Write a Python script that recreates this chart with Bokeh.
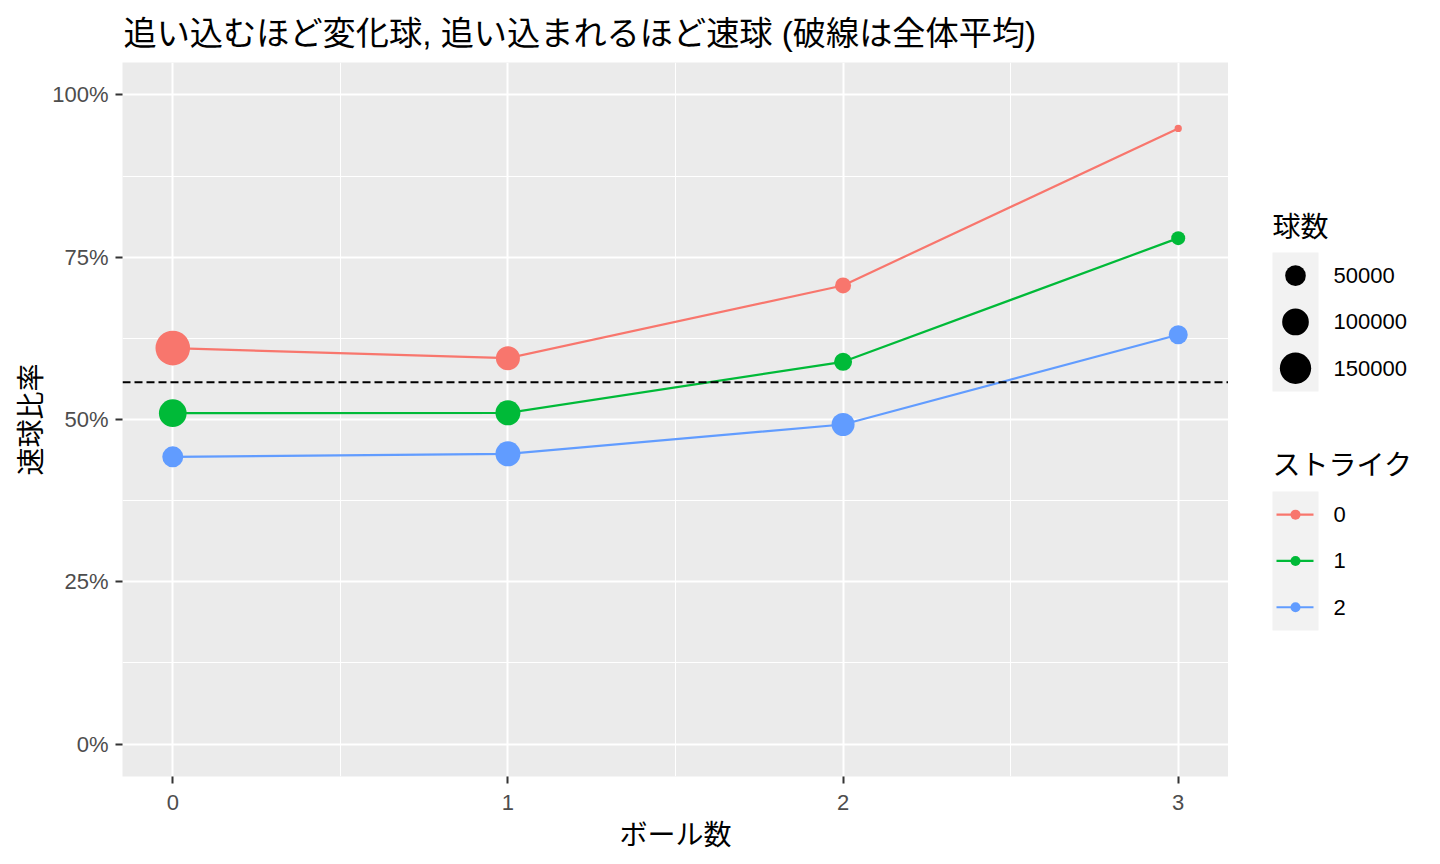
import numpy as np
from bokeh.plotting import figure
from bokeh.layouts import row
from bokeh.models import Range1d, FixedTicker, NumeralTickFormatter, Span
from bokeh.embed import file_html
from bokeh.resources import INLINE
from bokeh.core.properties import value

# ---------------- data ----------------
balls = [0, 1, 2, 3]
strike_labels = ["0", "1", "2"]
colors = ["#F8766D", "#00BA38", "#619CFF"]

rate_s0 = [0.610, 0.5945, 0.7065, 0.9484]
rate_s1 = [0.5097, 0.5103, 0.5889, 0.7794]
rate_s2 = [0.4425, 0.4471, 0.4923, 0.6305]

count_s0 = [191500, 75800, 23400, 400]
count_s1 = [110200, 84500, 33700, 15000]
count_s2 = [52700, 84500, 67700, 39600]

overall_mean = 0.5575

size_breaks = [50000, 100000, 150000]
size_break_labels = ["50000", "100000", "150000"]

x_ticks = [0, 1, 2, 3]
x_minor = [0.5, 1.5, 2.5]
y_ticks = [0.0, 0.25, 0.5, 0.75, 1.0]
y_minor = [0.125, 0.375, 0.625, 0.875]

title_text = "追い込むほど変化球, 追い込まれるほど速球 (破線は全体平均)"
x_title = "ボール数"
y_title = "速球比率"
size_title = "球数"
color_title = "ストライク"

rates = [rate_s0, rate_s1, rate_s2]
counts = [count_s0, count_s1, count_s2]

# area-style size scale (like ggplot scale_size)
all_counts = np.array(count_s0 + count_s1 + count_s2, dtype=float)
s_lo, s_hi = np.sqrt(all_counts.min()), np.sqrt(all_counts.max())
D_MIN, D_MAX = 7.3, 34.6


def size_px(v):
    v = np.asarray(v, dtype=float)
    return D_MIN + (D_MAX - D_MIN) * (np.sqrt(v) - s_lo) / (s_hi - s_lo)


JP = "Noto Sans CJK JP"
LAT = "Liberation Sans"
MIXED = "Liberation Sans, Noto Sans CJK JP"

# ---------------- main plot ----------------
p = figure(width=1228, height=864, output_backend="svg", toolbar_location=None,
           x_range=Range1d(-0.15, 3.15), y_range=Range1d(-0.05, 1.05),
           min_border_left=122, min_border_right=0, min_border_top=62, min_border_bottom=88)
p.frame_align = False
p.background_fill_color = "#EBEBEB"
p.border_fill_color = "white"
p.outline_line_color = None

p.title.text = title_text
p.title.text_font = MIXED
p.title.text_font_size = "33.2px"
p.title.text_font_style = "normal"
p.title.text_color = "black"
p.title.offset = 1
p.title.standoff = 22

p.xaxis.ticker = FixedTicker(ticks=x_ticks, minor_ticks=x_minor)
p.yaxis.ticker = FixedTicker(ticks=y_ticks, minor_ticks=y_minor)
p.yaxis.formatter = NumeralTickFormatter(format="0%")

for g in (p.xgrid, p.ygrid):
    g.grid_line_color = "white"
    g.grid_line_width = 2
    g.minor_grid_line_color = "white"
    g.minor_grid_line_width = 1

for ax in (p.xaxis, p.yaxis):
    ax.axis_line_color = None
    ax.major_tick_line_color = "#333333"
    ax.major_tick_line_width = 2
    ax.major_tick_out = 7
    ax.major_tick_in = 0
    ax.minor_tick_out = 0
    ax.minor_tick_in = 0
    ax.major_label_text_color = "#4D4D4D"
    ax.major_label_text_font = LAT
    ax.major_label_text_font_size = "22px"
    ax.axis_label_text_font = JP
    ax.axis_label_text_font_size = "28px"
    ax.axis_label_text_font_style = "normal"
    ax.axis_label_text_color = "black"

p.xaxis.axis_label = x_title
p.yaxis.axis_label = y_title
p.xaxis.major_label_standoff = 11
p.xaxis.axis_label_standoff = 0
p.yaxis.major_label_standoff = 7
p.yaxis.axis_label_standoff = 0

for rate, col in zip(rates, colors):
    p.line(balls, rate, line_color=col, line_width=2.2)
for rate, cnt, col in zip(rates, counts, colors):
    p.scatter(balls, rate, size=size_px(cnt), fill_color=col, line_color=col, line_width=0)

p.add_layout(Span(location=overall_mean, dimension="width", line_color="black",
                  line_width=2, line_dash="8 4"))

# ---------------- legend panel ----------------
q = figure(width=212, height=864, output_backend="svg", toolbar_location=None,
           x_range=Range1d(0, 212), y_range=Range1d(864, 0),
           x_axis_location=None, y_axis_location=None,
           min_border=0, min_border_left=0, min_border_right=0,
           min_border_top=0, min_border_bottom=0)
q.frame_align = False
q.outline_line_color = None
q.background_fill_color = "white"
q.border_fill_color = "white"
q.grid.visible = False

KEY_X0, KEY_W, ROW_H = 44, 46, 46.3
LABEL_X = 105

# size legend
size_key_top = 252
size_rows = [size_key_top + ROW_H * (i + 0.5) for i in range(len(size_breaks))]
q.quad(left=KEY_X0, right=KEY_X0 + KEY_W, top=size_key_top,
       bottom=size_key_top + ROW_H * len(size_breaks), fill_color="#F2F2F2", line_color=None)
q.scatter([KEY_X0 + KEY_W / 2] * len(size_breaks), size_rows, size=size_px(size_breaks),
          fill_color="black", line_color="black", line_width=0)
q.text([LABEL_X] * len(size_breaks), size_rows, text=size_break_labels,
       text_font=value(LAT), text_font_size=value("22px"), text_baseline="middle",
       text_color="black")
q.text([KEY_X0], [size_key_top - 28], text=[size_title], text_font=value(JP),
       text_font_size=value("28px"), text_baseline="middle", text_color="black")

# colour legend
col_key_top = 491
col_rows = [col_key_top + ROW_H * (i + 0.5) for i in range(len(strike_labels))]
q.quad(left=KEY_X0, right=KEY_X0 + KEY_W, top=col_key_top,
       bottom=col_key_top + ROW_H * len(strike_labels), fill_color="#F2F2F2", line_color=None)
q.segment(x0=[KEY_X0 + 4] * 3, x1=[KEY_X0 + KEY_W - 5] * 3, y0=col_rows, y1=col_rows,
          line_color=colors, line_width=2.2)
q.scatter([KEY_X0 + KEY_W / 2] * 3, col_rows, size=10, fill_color=colors,
          line_color=colors, line_width=0)
q.text([LABEL_X] * 3, col_rows, text=strike_labels, text_font=value(LAT),
       text_font_size=value("22px"), text_baseline="middle", text_color="black")
q.text([KEY_X0], [col_key_top - 29], text=[color_title], text_font=value(JP),
       text_font_size=value("28px"), text_baseline="middle", text_color="black")

layout = row(p, q)
open("out.html", "w").write(file_html(layout, INLINE))
